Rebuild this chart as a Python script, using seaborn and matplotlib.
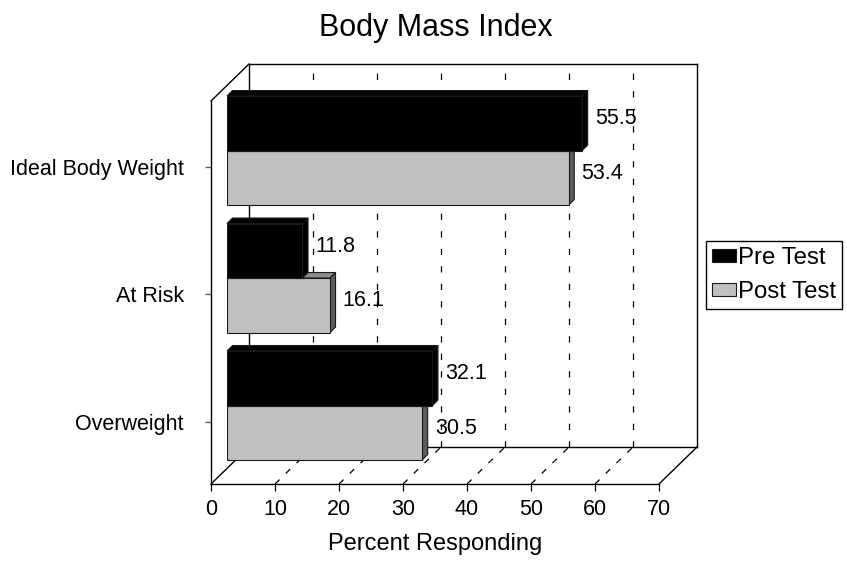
import pandas as pd
import matplotlib
matplotlib.use("Agg")
import matplotlib.pyplot as plt
from matplotlib.patches import Polygon
from matplotlib.lines import Line2D
import seaborn as sns

# ---- data -------------------------------------------------------------
categories = ["Ideal Body Weight", "At Risk", "Overweight"]
series = ["Pre Test", "Post Test"]
pre_test = [55.5, 11.8, 32.1]
post_test = [53.4, 16.1, 30.5]
x_ticks = [0, 10, 20, 30, 40, 50, 60, 70]

df = pd.DataFrame({
    "category": categories * 2,
    "series": [series[0]] * len(categories) + [series[1]] * len(categories),
    "value": pre_test + post_test,
})

sns.set_style("white")
plt.rcParams["font.family"] = ["Liberation Sans", "DejaVu Sans"]
plt.rcParams.update({
    "text.color": "black",
    "axes.labelcolor": "black",
    "xtick.color": "black",
    "ytick.color": "black",
    "xtick.labelcolor": "black",
    "ytick.labelcolor": "black",
})

W, H = 847, 565
fig = plt.figure(figsize=(W / 100, H / 100), dpi=100)
fig.patch.set_facecolor("white")


def px_rect(x0, y_top, w, h):
    """Pixel box (top-left origin) -> figure fraction rect."""
    return [x0 / W, 1 - (y_top + h) / H, w / W, h / H]


# Three planes of the pseudo-3D box share one scale and are shifted along
# the depth direction: back wall, bar plane, front edges.
PW, PH = 448, 383
XLIM = (0, 70)
YLIM = (2.49, -0.514)

ax_back = fig.add_axes(px_rect(249, 64, PW, PH), zorder=0)
ax = fig.add_axes(px_rect(227, 85, PW, PH), zorder=1)
ax_front = fig.add_axes(px_rect(211, 101, PW, PH), zorder=2)

# ---- bars (front faces) -----------------------------------------------
sns.barplot(data=df, y="category", x="value", hue="series",
            order=categories, hue_order=series,
            palette=["#000000", "#C0C0C0"], saturation=1, width=0.855,
            errorbar=None, edgecolor="#1a1a1a", linewidth=0.8,
            orient="h", ax=ax)

for a in (ax_back, ax, ax_front):
    a.set_xlim(*XLIM)
    a.set_ylim(*YLIM)

ax.set_facecolor("none")
for s in ax.spines.values():
    s.set_visible(False)
ax.set_xticks([])
ax.set_yticks([])
ax.set_xlabel("")
ax.set_ylabel("")

# depth of each bar, expressed in data units of the bar plane
DEPTH_PX = 5.5
dx = DEPTH_PX / (PW / (XLIM[1] - XLIM[0]))
dy = DEPTH_PX / (PH / (YLIM[0] - YLIM[1]))

face_styles = {
    0: dict(front_z=4, face_z=4.2, top="#000000", side="#000000"),
    1: dict(front_z=3, face_z=2.5, top="#8c8c8c", side="#5c5c5c"),
}

for i, (container, values) in enumerate(zip(ax.containers, [pre_test, post_test])):
    st = face_styles[i]
    for bar, v in zip(container, values):
        bar.set_zorder(st["front_z"])
        x0, y0, h = bar.get_x(), bar.get_y(), bar.get_height()
        x1 = x0 + v
        top = Polygon([(x0, y0), (x1, y0), (x1 + dx, y0 - dy), (x0 + dx, y0 - dy)],
                      closed=True, facecolor=st["top"], edgecolor="#1a1a1a",
                      linewidth=0.8, zorder=st["face_z"], clip_on=False)
        side = Polygon([(x1, y0), (x1, y0 + h), (x1 + dx, y0 + h - dy), (x1 + dx, y0 - dy)],
                       closed=True, facecolor=st["side"], edgecolor="#1a1a1a",
                       linewidth=0.8, zorder=st["face_z"], clip_on=False)
        ax.add_patch(top)
        ax.add_patch(side)
        ax.annotate(f"{v:.1f}", xy=(x1, y0 + h / 2), xytext=(9.2, 3.2),
                    textcoords="offset points", ha="left", va="center",
                    fontsize=15.5, color="black", zorder=6, annotation_clip=False)

# ---- back wall ----------------------------------------------------------
ax_back.set_facecolor("white")
for s in ax_back.spines.values():
    s.set_visible(True)
    s.set_color("black")
    s.set_linewidth(1.0)
ax_back.set_xticks(x_ticks[1:-1])
ax_back.set_yticks([])
ax_back.tick_params(axis="x", length=0, labelbottom=False)
ax_back.grid(axis="x", color="black", linestyle=(0, (5, 9)), linewidth=0.9)


def to_back(axes_src, pt):
    """Map a data point of another plane into the back-wall data space."""
    disp = axes_src.transData.transform(pt)
    return ax_back.transData.inverted().transform(disp)


y_floor = YLIM[0]
y_ceil = YLIM[1]

# floor grid lines running from the front edge to the back wall
for k in x_ticks[1:-1]:
    fx, fy = to_back(ax_front, (k, y_floor))
    ax_back.add_line(Line2D([fx, k], [fy, y_floor], color="black",
                            linestyle=(0, (5, 7)), linewidth=0.9, clip_on=False))

# box edges joining the front edges to the back wall
edge_pts = [((XLIM[0], y_ceil), (XLIM[0], y_ceil)),
            ((XLIM[0], y_floor), (XLIM[0], y_floor)),
            ((XLIM[1], y_floor), (XLIM[1], y_floor))]
for front_pt, back_pt in edge_pts:
    fx, fy = to_back(ax_front, front_pt)
    ax_back.add_line(Line2D([fx, back_pt[0]], [fy, back_pt[1]], color="black",
                            linewidth=1.0, clip_on=False))

# ---- front edges with the axes -------------------------------------------
ax_front.set_facecolor("none")
ax_front.spines["top"].set_visible(False)
ax_front.spines["right"].set_visible(False)
for side_name in ("left", "bottom"):
    ax_front.spines[side_name].set_color("black")
    ax_front.spines[side_name].set_linewidth(1.0)
ax_front.set_xticks(x_ticks)
ax_front.set_xticklabels([str(t) for t in x_ticks], fontsize=15.5, color="black")
ax_front.set_yticks(range(len(categories)))
ax_front.set_yticklabels(categories, fontsize=15.5, color="black")
ax_front.tick_params(axis="x", direction="out", length=5, width=0.9,
                     color="black", pad=6, bottom=True)
ax_front.tick_params(axis="y", direction="out", length=4.5, width=0.9,
                     color="#555555", pad=15, left=True)
ax_front.set_xlabel("Percent Responding", fontsize=17, labelpad=9, color="black")

# ---- title and legend -----------------------------------------------------
fig.text(436 / W, 1 - 36 / H, "Body Mass Index", ha="center", va="baseline",
         fontsize=22, color="black")

sns.move_legend(ax, "upper left", bbox_to_anchor=(706 / W, 1 - 241 / H),
                bbox_transform=fig.transFigure, title=None, frameon=True,
                fontsize=17.3, handlelength=1.0, handleheight=0.42,
                handletextpad=0.1, borderpad=0.25, labelspacing=0.5,
                borderaxespad=0, fancybox=False, edgecolor="black",
                framealpha=1)
leg = ax.get_legend()
leg.get_frame().set_linewidth(1.0)
leg.set_zorder(10)
for t in leg.get_texts():
    t.set_color("black")

fig.savefig("out.png", dpi=100)
